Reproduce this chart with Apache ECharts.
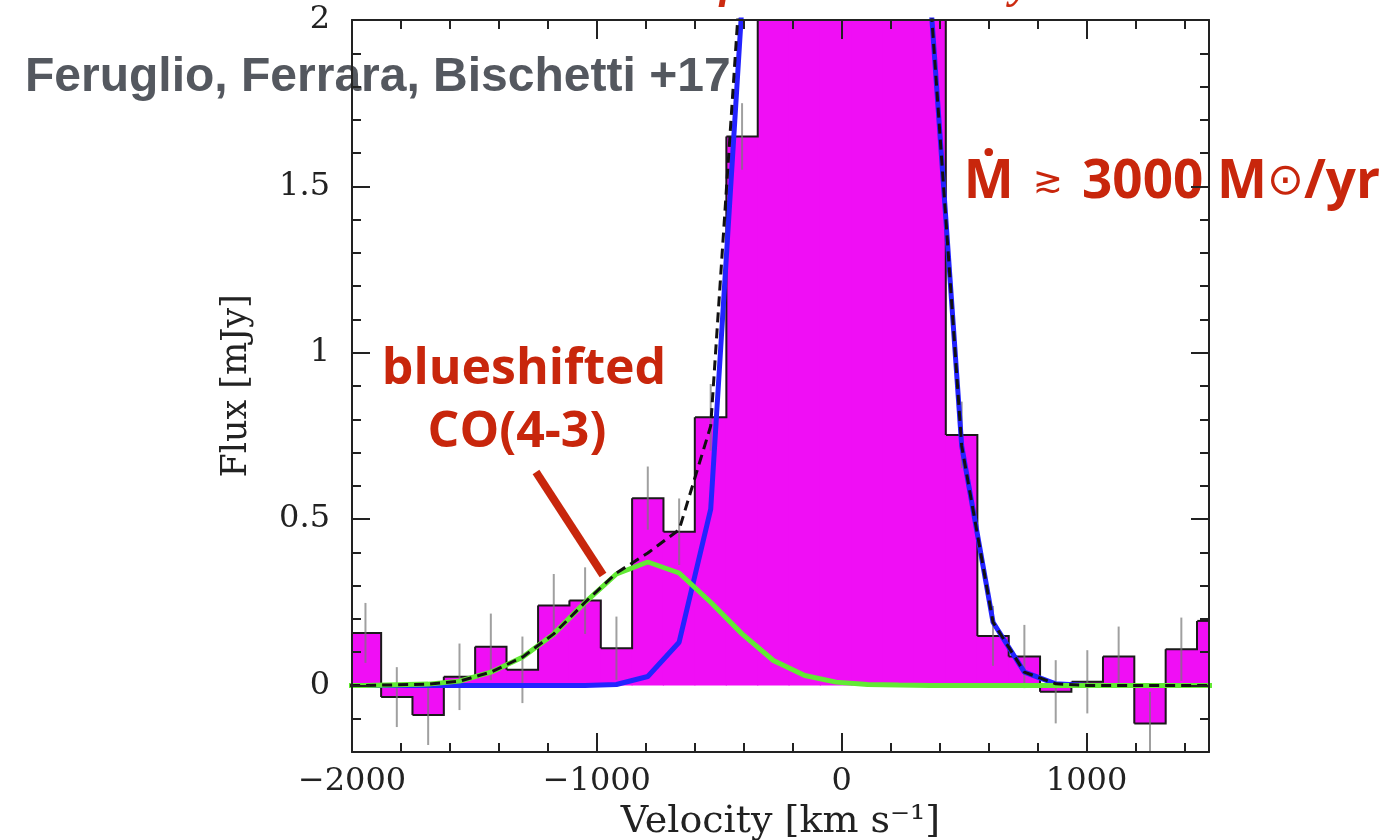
<!DOCTYPE html>
<html>
<head>
<meta charset="utf-8">
<script src="https://cdn.jsdelivr.net/npm/echarts@6/dist/echarts.min.js"></script>
<style>
html,body{margin:0;padding:0;background:#fff;}
#chart{width:1384px;height:840px;}
</style>
</head>
<body>
<div id="chart"></div>
<script>
// ---- data ----
const binCenters = [-1945, -1817, -1689, -1561, -1433, -1304, -1176, -1048, -920, -792, -664, -535, -407, -279, -151, -23, 105, 233, 361, 490, 618, 746, 874, 1003, 1131, 1259, 1387, 1516];
const fluxValues = [0.158, -0.035, -0.089, 0.026, 0.116, 0.047, 0.24, 0.255, 0.112, 0.563, 0.462, 0.806, 1.65, 2.6, 3.1, 3.4, 3.3, 2.9, 2.3, 0.753, 0.149, 0.087, -0.019, 0.011, 0.087, -0.114, 0.109, 0.194];
const fluxErrors = [0.09, 0.09, 0.09, 0.1, 0.1, 0.1, 0.095, 0.1, 0.095, 0.095, 0.1, 0.1, 0.1, 0.1, 0.1, 0.1, 0.1, 0.1, 0.1, 0.1, 0.09, 0.095, 0.095, 0.095, 0.09, 0.095, 0.095, 0.095];

const modelX = [-2073, -1945, -1817, -1689, -1561, -1433, -1304, -1176, -1048, -920, -792, -664, -535, -407, -279, -151, -23, 105, 233, 361, 490, 618, 746, 874, 1003, 1131, 1259, 1387, 1516, 1644];
const mainComponent = [0, 0, 0, 0, 0, 0, 0, 0, 0, 0.003, 0.027, 0.13, 0.53, 2.05, 3.3, 4.0, 4.3, 4.2, 3.6, 2.08, 0.72, 0.19, 0.04, 0.005, 0, 0, 0, 0, 0, 0];
const blueshiftedComponent = [0, 0, 0.002, 0.004, 0.013, 0.04, 0.085, 0.155, 0.25, 0.335, 0.371, 0.338, 0.25, 0.155, 0.075, 0.03, 0.01, 0.003, 0.001, 0, 0, 0, 0, 0, 0, 0, 0, 0, 0, 0];
const totalModel = [0, 0, 0.002, 0.004, 0.013, 0.04, 0.085, 0.155, 0.25, 0.338, 0.398, 0.468, 0.78, 2.2, 3.38, 4.03, 4.31, 4.2, 3.6, 2.08, 0.72, 0.19, 0.04, 0.005, 0, 0, 0, 0, 0, 0];

const xTickLabels = [-2000, -1000, 0, 1000];
const yTickLabels = [0, 0.5, 1, 1.5, 2];

// ---- chart ----
const chart = echarts.init(document.getElementById('chart'), null, {renderer: 'canvas'});
const binWidth = binCenters[1] - binCenters[0];
const Y_MIN = -0.2, Y_MAX = 2;
const zip = (xs, ys) => xs.map((x, i) => [x, ys[i]]);
const clampY = v => Math.max(Y_MIN - 0.05, Math.min(Y_MAX + 0.05, v));

const tickFont = {fontFamily: 'DejaVu Serif', fontSize: 32, color: '#222'};
const axisLine = {show: true, onZero: false, lineStyle: {color: '#222', width: 2}};
const hiddenLine = {show: false, onZero: false};

function fmtX(v) {
  if (xTickLabels.indexOf(v) < 0) return '';
  return v < 0 ? '\u2212' + Math.abs(v) : String(v);
}
function fmtY(v) {
  for (const t of yTickLabels) if (Math.abs(v - t) < 1e-6) return String(t);
  return '';
}

const xBase = {
  type: 'value', min: -2000, max: 1500, interval: 1000, z: 10,
  axisLine: axisLine,
  axisTick: {show: true, inside: true, length: 19, lineStyle: {color: '#222', width: 2}},
  minorTick: {show: true, splitNumber: 5, length: 9, lineStyle: {color: '#222', width: 2}},
  splitLine: {show: false}
};
const yBase = {
  type: 'value', min: Y_MIN, max: Y_MAX, interval: 0.1, z: 10,
  axisLine: axisLine,
  axisTick: {show: true, inside: true, length: 9, lineStyle: {color: '#222', width: 2}},
  splitLine: {show: false}
};

const option = {
  animation: false,
  backgroundColor: '#fff',
  grid: {left: 352, top: 20, width: 857, height: 732, containLabel: false, outerBoundsMode: 'none'},
  xAxis: [
    Object.assign({}, xBase, {
      position: 'bottom',
      axisLabel: Object.assign({show: true, margin: 14, formatter: fmtX}, tickFont),
      name: 'Velocity [km s\u207B\u00B9]', nameLocation: 'middle', nameGap: 51,
      nameTextStyle: {fontFamily: 'DejaVu Serif', fontSize: 38, color: '#222'}
    }),
    Object.assign({}, xBase, {position: 'top', axisLabel: {show: false}})
  ],
  yAxis: [
    Object.assign({}, yBase, {
      position: 'left',
      axisLabel: Object.assign({show: true, margin: 22, formatter: fmtY}, tickFont),
      name: 'Flux [mJy]', nameLocation: 'middle', nameGap: 98,
      nameTextStyle: {fontFamily: 'DejaVu Serif', fontSize: 35, color: '#222'}
    }),
    Object.assign({}, yBase, {position: 'right', axisLabel: {show: false}}),
    Object.assign({}, yBase, {position: 'left', axisLine: hiddenLine, axisLabel: {show: false},
      axisTick: {show: true, inside: true, length: 18, customValues: yTickLabels, lineStyle: {color: '#222', width: 2}}}),
    Object.assign({}, yBase, {position: 'right', axisLine: hiddenLine, axisLabel: {show: false},
      axisTick: {show: true, inside: true, length: 18, customValues: yTickLabels, lineStyle: {color: '#222', width: 2}}})
  ],
  series: [
    {
      type: 'custom', name: 'spectrum-fill', clip: true, z: 2,
      data: zip(binCenters, fluxValues),
      renderItem: function (params, api) {
        const c = api.value(0), v = clampY(api.value(1));
        const h = binWidth / 2;
        const a = api.coord([c - h, 0]);
        const b = api.coord([c + h, v]);
        return {
          type: 'rect',
          shape: {x: a[0] - 0.6, y: Math.min(a[1], b[1]), width: b[0] - a[0] + 1.2, height: Math.abs(a[1] - b[1])},
          style: {fill: '#f00ef5'}
        };
      }
    },
    {
      type: 'custom', name: 'spectrum-outline', clip: true, z: 3,
      data: zip(binCenters, fluxValues),
      renderItem: function (params, api) {
        const i = params.dataIndex;
        const c = api.value(0), v = clampY(api.value(1));
        const h = binWidth / 2;
        const pts = [api.coord([c - h, v]), api.coord([c + h, v])];
        if (i < fluxValues.length - 1) pts.push(api.coord([c + h, clampY(fluxValues[i + 1])]));
        return {type: 'polyline', shape: {points: pts}, style: {stroke: '#1a1a1a', lineWidth: 2, fill: null}};
      }
    },
    {
      type: 'custom', name: 'errors', clip: true, z: 4,
      data: binCenters.map((c, i) => [c, fluxValues[i], fluxErrors[i]]),
      renderItem: function (params, api) {
        const c = api.value(0), v = api.value(1), e = api.value(2);
        if (v - e > Y_MAX) return null;
        const p = api.coord([c, clampY(v + e)]), q = api.coord([c, clampY(v - e)]);
        return {type: 'line', shape: {x1: p[0], y1: p[1], x2: q[0], y2: q[1]}, style: {stroke: 'rgba(120,120,120,0.7)', lineWidth: 2}};
      }
    },
    {
      type: 'line', name: 'main', data: zip(modelX, mainComponent), symbol: 'none', z: 5,
      lineStyle: {color: '#2323ff', width: 5}
    },
    {
      type: 'line', name: 'blueshifted', data: zip(modelX, blueshiftedComponent), symbol: 'none', z: 6,
      lineStyle: {color: '#62ea34', width: 5}
    },
    {
      type: 'line', name: 'total', data: zip(modelX, totalModel), symbol: 'none', z: 7,
      lineStyle: {color: '#111', width: 3, type: [10, 6]}
    }
  ],
  graphic: [
    {type: 'text', x: 650, y: 9, z: 100,
      style: {text: 'Outflows in the early Universe', font: 'italic bold 44px "Liberation Serif"', fill: '#cc2a10', textAlign: 'left', textVerticalAlign: 'bottom'}},
    {type: 'text', x: 25, y: 78, z: 1,
      style: {text: 'Feruglio, Ferrara, Bischetti +17', font: 'bold 48px "Liberation Sans"', fill: '#54585f', textAlign: 'left', textVerticalAlign: 'middle'}},
    {type: 'text', x: 1380, y: 183, z: 1,
      style: {
        text: '{a|\u1E40}{s| }{b|\u2273}{s| }{a|3000 M}{c|\u2299}{a|/yr}',
        textAlign: 'right', textVerticalAlign: 'middle',
        rich: {
          a: {font: 'bold 53px "Open Sans"', fill: '#c8260c'},
          s: {font: '60px "DejaVu Sans"', fill: '#c8260c'},
          b: {font: '36px "DejaVu Sans"', fill: '#c8260c'},
          c: {font: '44px "DejaVu Sans"', fill: '#c8260c'}
        }
      }},
    {type: 'text', x: 524, y: 370, z: 100,
      style: {text: 'blueshifted', font: 'bold 50px "Open Sans"', fill: '#c8260c', textAlign: 'center', textVerticalAlign: 'middle'}},
    {type: 'text', x: 517, y: 433, z: 100,
      style: {text: 'CO(4-3)', font: 'bold 50px "Open Sans"', fill: '#c8260c', textAlign: 'center', textVerticalAlign: 'middle'}},
    {type: 'line', z: 100, shape: {x1: 536, y1: 472, x2: 603, y2: 575}, style: {stroke: '#c8260c', lineWidth: 8}}
  ]
};
chart.setOption(option);
</script>
</body>
</html>
